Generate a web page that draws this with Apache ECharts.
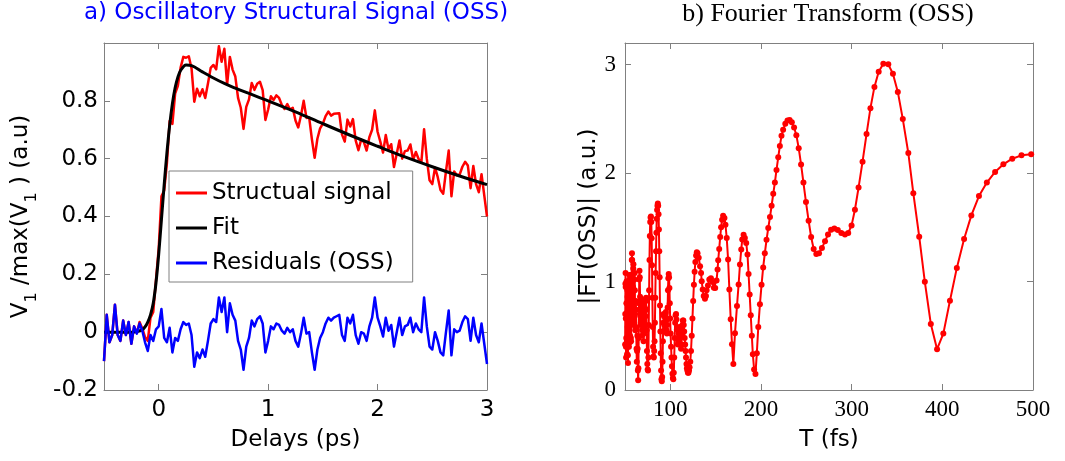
<!DOCTYPE html>
<html>
<head>
<meta charset="utf-8">
<title>OSS</title>
<script src="https://cdn.jsdelivr.net/npm/echarts@6/dist/echarts.min.js"></script>
<style>
html, body { margin: 0; padding: 0; background: #fff; }
#charts { width: 1065px; height: 461px; }
</style>
</head>
<body>
<div id="charts"></div>
<script>
// a) delays (ps), structural signal and residuals
var delays = [
    -0.5, -0.475, -0.45, -0.425, -0.4, -0.375, -0.35, -0.325, -0.3, -0.275,
    -0.25, -0.225, -0.2, -0.175, -0.15, -0.125, -0.1, -0.075, -0.05, -0.025,
    0, 0.025, 0.05, 0.075, 0.1, 0.125, 0.15, 0.175, 0.2, 0.225,
    0.25, 0.275, 0.3, 0.325, 0.35, 0.375, 0.4, 0.425, 0.45, 0.475,
    0.5, 0.525, 0.55, 0.575, 0.6, 0.625, 0.65, 0.675, 0.7, 0.725,
    0.75, 0.775, 0.8, 0.825, 0.85, 0.875, 0.9, 0.925, 0.95, 0.975,
    1, 1.025, 1.05, 1.075, 1.1, 1.125, 1.15, 1.175, 1.2, 1.225,
    1.25, 1.275, 1.3, 1.325, 1.35, 1.375, 1.4, 1.425, 1.45, 1.475,
    1.5, 1.525, 1.55, 1.575, 1.6, 1.625, 1.65, 1.675, 1.7, 1.725,
    1.75, 1.775, 1.8, 1.825, 1.85, 1.875, 1.9, 1.925, 1.95, 1.975,
    2, 2.025, 2.05, 2.075, 2.1, 2.125, 2.15, 2.175, 2.2, 2.225,
    2.25, 2.275, 2.3, 2.325, 2.35, 2.375, 2.4, 2.425, 2.45, 2.475,
    2.5, 2.525, 2.55, 2.575, 2.6, 2.625, 2.65, 2.675, 2.7, 2.725,
    2.75, 2.775, 2.8, 2.825, 2.85, 2.875, 2.9, 2.925, 2.95, 2.975,
    3
];
var signal = [
    -0.10, 0.06, -0.035, -0.01, 0.095, -0.01, -0.03, 0.04, -0.01, 0.035,
    -0.04, 0.02, -0.003, 0.035, 0.013, -0.017, -0.03, 0.05, 0.07, 0.18,
    0.29, 0.47, 0.49, 0.585, 0.73, 0.72, 0.825, 0.852, 0.915, 0.952,
    0.949, 0.954, 0.912, 0.797, 0.842, 0.816, 0.84, 0.81, 0.86, 0.914,
    0.924, 0.909, 0.989, 0.935, 0.98, 0.856, 0.952, 0.908, 0.884, 0.81,
    0.776, 0.703, 0.779, 0.805, 0.862, 0.838, 0.859, 0.866, 0.837, 0.734,
    0.77, 0.816, 0.803, 0.819, 0.81, 0.786, 0.772, 0.789, 0.77, 0.776,
    0.732, 0.708, 0.749, 0.8, 0.741, 0.742, 0.667, 0.603, 0.669, 0.705,
    0.721, 0.747, 0.763, 0.749, 0.755, 0.756, 0.757, 0.683, 0.659, 0.735,
    0.711, 0.737, 0.663, 0.629, 0.666, 0.657, 0.628, 0.674, 0.7, 0.767,
    0.693, 0.659, 0.621, 0.682, 0.633, 0.65, 0.571, 0.617, 0.663, 0.6,
    0.626, 0.628, 0.649, 0.596, 0.623, 0.599, 0.586, 0.702, 0.599, 0.525,
    0.512, 0.569, 0.536, 0.492, 0.479, 0.556, 0.628, 0.47, 0.556, 0.543,
    0.545, 0.572, 0.589, 0.576, 0.498, 0.575, 0.512, 0.484, 0.546, 0.473,
    0.40
];
var residuals = [
    -0.10, 0.06, -0.035, -0.01, 0.095, -0.01, -0.03, 0.04, -0.01, 0.035,
    -0.04, 0.02, -0.005, 0.03, 0.005, -0.035, -0.065, -0.01, -0.03, 0.01,
    0.02, 0.08, -0.02, -0.035, 0.015, -0.07, -0.02, -0.03, 0.01, 0.035,
    0.025, 0.03, -0.01, -0.12, -0.07, -0.09, -0.06, -0.085, -0.03, 0.03,
    0.045, 0.035, 0.12, 0.07, 0.12, 0.0, 0.1, 0.06, 0.04, -0.03,
    -0.06, -0.13, -0.05, -0.02, 0.04, 0.02, 0.045, 0.055, 0.03, -0.07,
    -0.03, 0.02, 0.01, 0.03, 0.025, 0.005, -0.005, 0.015, 0.0, 0.01,
    -0.03, -0.05, -0.005, 0.05, -0.005, 0.0, -0.07, -0.13, -0.06, -0.02,
    0.0, 0.03, 0.05, 0.04, 0.05, 0.055, 0.06, -0.01, -0.03, 0.05,
    0.03, 0.06, -0.01, -0.04, 0.0, -0.005, -0.03, 0.02, 0.05, 0.12,
    0.05, 0.02, -0.015, 0.05, 0.005, 0.025, -0.05, 0.0, 0.05, -0.01,
    0.02, 0.025, 0.05, 0.0, 0.03, 0.01, 0.0, 0.12, 0.02, -0.05,
    -0.06, 0.0, -0.03, -0.07, -0.08, 0.0, 0.075, -0.08, 0.01, 0.0,
    0.005, 0.035, 0.055, 0.045, -0.03, 0.05, -0.01, -0.035, 0.03, -0.04,
    -0.11
];
// fit curve, read at a few points, drawn smooth
var fitDelays = [-0.5, -0.25, -0.2, -0.15, -0.125, -0.1, -0.075, -0.05, -0.025, 0,
    0.025, 0.05, 0.075, 0.1, 0.125, 0.15, 0.175, 0.2, 0.25, 0.3,
    0.4, 0.5, 0.6, 0.7, 0.8, 1.0, 1.25, 1.5, 1.75, 2.0,
    2.25, 2.5, 2.75, 3.0];
var fitValues = [0, 0, 0.002, 0.008, 0.018, 0.035, 0.06, 0.1, 0.17, 0.27,
    0.39, 0.51, 0.62, 0.715, 0.79, 0.845, 0.882, 0.905, 0.924, 0.922,
    0.9, 0.879, 0.86, 0.844, 0.829, 0.8, 0.762, 0.721, 0.681, 0.643,
    0.606, 0.572, 0.54, 0.51];

// b) period T (fs) and |FT(OSS)|
var periods = [
    50.15, 50.3, 50.45, 50.6, 50.75, 50.9, 51.05, 51.2, 51.35, 51.5,
    51.65, 51.8, 51.95, 52.1, 52.25, 52.4, 52.55, 52.7, 52.85, 53.0,
    53.15, 53.3, 53.45, 53.6, 53.75, 53.9, 54.05, 54.2, 54.35, 54.5,
    54.65, 54.8, 54.95, 55.1, 55.25, 55.4, 55.55, 55.7, 55.85, 56.0,
    56.15, 56.3, 56.5, 56.7, 56.9, 57.1, 57.3, 57.5, 57.7, 57.9,
    58.1, 58.3, 58.5, 58.7, 58.9, 59.1, 59.3, 59.5, 59.7, 59.9,
    60.1, 60.3, 60.5, 60.7, 60.9, 61.1, 61.3, 61.5, 61.7, 61.9,
    62.1, 62.4, 62.7, 63.0, 63.3, 63.6, 63.9, 64.2, 64.5, 64.8,
    65.1, 65.4, 65.7, 66.0, 66.3, 66.6, 66.9, 67.2, 67.5, 67.8,
    68.1, 68.4, 68.7, 69.0, 69.3, 69.6, 69.9, 70.2, 70.5, 70.8,
    71.1, 71.4, 71.7, 72.0, 72.3, 72.6, 72.9, 73.2, 73.5, 73.8,
    74.2, 74.6, 75.0, 75.4, 75.8, 76.2, 76.6, 77.0, 77.4, 77.8,
    78.2, 78.6, 79.0, 79.4, 79.8, 80.2, 80.6, 81.0, 81.4, 81.8,
    82.2, 82.6, 83.0, 83.4, 83.8, 84.2, 84.6, 85.0, 85.4, 85.8,
    86.2, 86.6, 87.0, 87.4, 87.8, 88.2, 88.6, 89.0, 89.4, 89.8,
    90.2, 90.6, 91.0, 91.4, 91.8, 92.2, 92.6, 93.0, 93.4, 93.8,
    94.2, 94.6, 95.0, 95.4, 95.8, 96.2, 96.6, 97.0, 97.4, 97.8,
    98.2, 98.6, 99.0, 99.4, 99.8, 100.3, 100.8, 101.3, 101.8, 102.3,
    102.8, 103.3, 103.8, 104.3, 104.8, 105.3, 105.8, 106.3, 106.8, 107.3,
    107.8, 108.3, 108.8, 109.3, 109.8, 110.3, 110.8, 111.3, 111.8, 112.3,
    112.8, 113.3, 113.8, 114.3, 114.8, 115.3, 115.8, 116.3, 116.8, 117.3,
    117.8, 118.3, 118.8, 119.4, 120.0, 120.6, 121.2, 122.0, 122.8, 123.6,
    124.4, 125.2, 126.0, 126.8, 127.6, 128.4, 129.2, 130.0, 131.3,
    132.8, 133.9, 134.6, 135.7, 136.8, 138.2, 139.3, 140.0, 141.5, 143.0,
    144.8, 146.6, 148.0, 149.5, 151.0, 152.1, 152.8, 153.9, 155.0, 156.0,
    157.1, 158.2, 159.7, 160.8, 162.2, 163.7, 165.1, 166.6, 168.0, 169.5,
    171.3, 173.5, 175.3, 176.8, 178.2, 179.3, 180.8, 182.2, 183.7, 185.1,
    186.3, 187.5, 188.7, 189.9, 191.0, 192.4, 193.9, 195.4, 197.0, 198.8,
    200.6, 202.4, 204.2, 206.1, 208.0, 209.9, 211.7, 213.5, 215.3, 217.1,
    219.0, 220.8, 222.6, 224.4, 226.8, 229.2, 231.6, 234.0, 236.5, 239.0,
    241.6, 244.2, 246.8, 249.6, 252.5, 255.3, 258.1, 261.0, 264.0, 267.2,
    270.6, 273.9, 277.3, 280.9, 284.7, 288.6, 292.6, 296.2, 299.9, 303.6,
    307.6, 312.0, 316.4, 320.7, 325.1, 329.8, 334.9, 340.4, 345.5, 350.9,
    356.4, 362.5, 368.0, 374.5, 380.7, 387.3, 394.2, 401.1, 408.4, 416.0,
    424.0, 432.0, 440.4, 449.1, 458.2, 467.3, 477.1, 487.3, 498.0
];
var ftAmp = [
    0.42, 0.70, 0.98, 1.08, 0.95, 0.66, 0.40, 0.30, 0.48, 0.80,
    1.00, 0.95, 0.70, 0.45, 0.33, 0.45, 0.72, 0.92, 0.86, 0.58,
    0.32, 0.25, 0.40, 0.68, 0.90, 0.94, 0.76, 0.52, 0.40, 0.52,
    0.80, 1.02, 1.06, 0.88, 0.60, 0.44, 0.50, 0.75, 0.98, 1.06,
    0.95, 0.70, 0.48, 0.45, 0.62, 0.85, 1.06, 1.20, 1.26, 1.20,
    1.00, 0.75, 0.62, 0.72, 0.95, 1.12, 1.16, 1.02, 0.78, 0.60,
    0.62, 0.82, 1.02, 1.08, 0.92, 0.70, 0.55, 0.58, 0.74, 0.82,
    0.74, 0.56, 0.38, 0.26, 0.36, 0.50, 0.38, 0.18, 0.09, 0.20,
    0.48, 0.80, 1.02, 1.10, 1.04, 0.86, 0.68, 0.60, 0.72, 0.84,
    0.78, 0.62, 0.50, 0.55, 0.72, 0.82, 0.74, 0.56, 0.45, 0.52,
    0.70, 0.82, 0.76, 0.60, 0.55, 0.68, 0.82, 0.85, 0.74, 0.55,
    0.36, 0.24, 0.19, 0.18, 0.30, 0.60, 0.92, 1.20, 1.42, 1.55,
    1.59, 1.60, 1.55, 1.40, 1.15, 0.85, 0.58, 0.40, 0.31, 0.30,
    0.36, 0.45, 0.62, 0.85, 1.08, 1.28, 1.45, 1.58, 1.66, 1.70,
    1.72, 1.70, 1.62, 1.48, 1.28, 1.04, 0.78, 0.54, 0.34, 0.18,
    0.10, 0.08, 0.12, 0.26, 0.45, 0.62, 0.70, 0.68, 0.60, 0.55,
    0.60, 0.70, 0.72, 0.64, 0.55, 0.52, 0.60, 0.76, 0.92, 1.03,
    1.07, 1.04, 0.94, 0.80, 0.66, 0.52, 0.40, 0.30, 0.22, 0.15,
    0.11, 0.10, 0.16, 0.30, 0.48, 0.62, 0.69, 0.70, 0.65, 0.56,
    0.47, 0.42, 0.44, 0.52, 0.58, 0.57, 0.50, 0.42, 0.38, 0.42,
    0.52, 0.60, 0.64, 0.64, 0.60, 0.54, 0.48, 0.42, 0.36, 0.30,
    0.24, 0.20, 0.18, 0.16, 0.16, 0.18, 0.21, 0.26, 0.36, 0.50,
    0.66, 0.82, 0.97, 1.09, 1.18, 1.24, 1.27, 1.26, 1.22,
    1.142, 1.08, 1.004, 0.927, 0.866, 0.842, 0.866, 0.921, 0.964, 1.019,
    1.031, 0.995, 0.943, 0.94, 1.01, 1.111, 1.197, 1.301, 1.411, 1.5,
    1.57, 1.607, 1.586, 1.524, 1.402, 1.203, 0.927, 0.652, 0.422, 0.239,
    0.523, 0.774, 0.973, 1.157, 1.295, 1.387, 1.432, 1.402, 1.356, 1.249,
    1.07, 0.88, 0.69, 0.50, 0.33, 0.19, 0.147, 0.34, 0.58, 0.79,
    0.97, 1.13, 1.26, 1.385, 1.494, 1.595, 1.699, 1.809, 1.913, 2.029,
    2.146, 2.25, 2.344, 2.40, 2.455, 2.485, 2.49, 2.47, 2.42, 2.35,
    2.23, 2.08, 1.913, 1.733, 1.561, 1.411, 1.301, 1.255, 1.261, 1.31,
    1.371, 1.435, 1.478, 1.49, 1.475, 1.448, 1.435, 1.448, 1.518, 1.662,
    1.867, 2.106, 2.36, 2.599, 2.795, 2.935, 3.009, 3.003, 2.917, 2.749,
    2.498, 2.185, 1.815, 1.414, 0.998, 0.609, 0.376, 0.52, 0.823, 1.126,
    1.393, 1.61, 1.788, 1.913, 2.011, 2.081, 2.133, 2.164, 2.175
];

// tick positions
var delayTicks = [0, 1, 2, 3];
var signalTicks = [-0.2, 0, 0.2, 0.4, 0.6, 0.8];
var periodTicks = [100, 200, 300, 400, 500];
var ftTicks = [0, 1, 2, 3];

var SANS = 'DejaVu Sans';
var SERIF = 'Liberation Serif';
var BOX = '#808080';

var chart;

init();

function init() {
    chart = echarts.init(document.getElementById('charts'), null, {renderer: 'canvas', width: 1065, height: 461});
    chart.setOption(buildOption());
}

function pairs(xs, ys) {
    var out = [];
    for (var i = 0; i < xs.length; i++) {
        out.push([xs[i], ys[i]]);
    }
    return out;
}

/*
 * one side of the matlab style box: ticks inside, labels only on bottom/left
 */
function boxAxis(grid, position, min, max, ticks, labelFont, labelMargin) {
    var axis = {
        gridIndex: grid,
        type: 'value',
        position: position,
        min: min,
        max: max,
        splitLine: {show: false},
        axisLine: {onZero: false, lineStyle: {color: BOX, width: 1}},
        axisTick: {inside: true, length: 6, customValues: ticks, lineStyle: {color: BOX}},
        axisLabel: {show: false}
    };
    if (labelFont) {
        axis.axisLabel = {
            show: true,
            customValues: ticks,
            margin: labelMargin,
            fontFamily: labelFont,
            fontSize: 23,
            color: '#000'
        };
    }
    return axis;
}

function buildOption() {
    var xDelay = boxAxis(0, 'bottom', -0.5, 3, delayTicks, SANS, 9);
    xDelay.name = 'Delays (ps)';
    xDelay.nameLocation = 'middle';
    xDelay.nameGap = 39;
    xDelay.nameTextStyle = {fontFamily: SANS, fontSize: 23, color: '#000'};

    var ySignal = boxAxis(0, 'left', -0.2, 1.0, signalTicks, SANS, 6);
    ySignal.name = '{a|V}{s|1}{a| /max(V}{s|1}{a| ) (a.u)}';
    ySignal.nameLocation = 'middle';
    ySignal.nameGap = 64;
    ySignal.nameTextStyle = {
        fontFamily: SANS, fontSize: 23, color: '#000',
        rich: {
            a: {fontFamily: SANS, fontSize: 23, color: '#000', lineHeight: 38, verticalAlign: 'middle'},
            s: {fontFamily: SANS, fontSize: 16, color: '#000', lineHeight: 16, verticalAlign: 'bottom'}
        }
    };

    var xPeriod = boxAxis(1, 'bottom', 50, 500, periodTicks, SERIF, 8);
    xPeriod.name = 'T (fs)';
    xPeriod.nameLocation = 'middle';
    xPeriod.nameGap = 39;
    xPeriod.nameTextStyle = {fontFamily: SANS, fontSize: 23, color: '#000'};

    var yFt = boxAxis(1, 'left', 0, 3.2, ftTicks, SERIF, 9);
    yFt.name = '|FT(OSS)| (a.u.)';
    yFt.nameLocation = 'middle';
    yFt.nameGap = 24;
    yFt.nameTextStyle = {fontFamily: SANS, fontSize: 23, color: '#000'};

    return {
        animation: false,
        backgroundColor: '#fff',
        title: [
            {
                text: 'a) Oscillatory Structural Signal (OSS)',
                left: 296, top: 2, textAlign: 'center', padding: 0,
                textStyle: {fontFamily: SANS, fontSize: 23, fontWeight: 'normal', color: '#0000ff'}
            },
            {
                text: 'b) Fourier Transform (OSS)',
                left: 828, top: 1, textAlign: 'center', padding: 0,
                textStyle: {fontFamily: SERIF, fontSize: 26, fontWeight: 'normal', color: '#000'}
            }
        ],
        legend: {
            data: ['Structual signal', 'Fit', 'Residuals (OSS)'],
            orient: 'vertical',
            left: 169,
            top: 171,
            icon: 'rect',
            itemWidth: 31,
            itemHeight: 3,
            itemGap: 9,
            padding: [9, 19, 6, 7],
            borderColor: BOX,
            borderWidth: 1,
            borderRadius: 0,
            backgroundColor: '#fff',
            selectedMode: false,
            textStyle: {fontFamily: SANS, fontSize: 23, color: '#000', lineHeight: 26}
        },
        grid: [
            {left: 104, top: 43, width: 383, height: 347},
            {left: 625, top: 43, width: 408, height: 347}
        ],
        xAxis: [
            xDelay,
            boxAxis(0, 'top', -0.5, 3, delayTicks),
            xPeriod,
            boxAxis(1, 'top', 50, 500, periodTicks)
        ],
        yAxis: [
            ySignal,
            boxAxis(0, 'right', -0.2, 1.0, signalTicks),
            yFt,
            boxAxis(1, 'right', 0, 3.2, ftTicks)
        ],
        series: [
            {
                name: 'Structual signal', type: 'line', xAxisIndex: 0, yAxisIndex: 0,
                data: pairs(delays, signal), symbol: 'none',
                itemStyle: {color: '#ff0000'},
                lineStyle: {color: '#ff0000', width: 2.5, join: 'round'}
            },
            {
                name: 'Fit', type: 'line', xAxisIndex: 0, yAxisIndex: 0,
                data: pairs(fitDelays, fitValues), symbol: 'none', smooth: 0.35,
                itemStyle: {color: '#000'},
                lineStyle: {color: '#000', width: 3, join: 'round'}
            },
            {
                name: 'Residuals (OSS)', type: 'line', xAxisIndex: 0, yAxisIndex: 0,
                data: pairs(delays, residuals), symbol: 'none',
                itemStyle: {color: '#0000ff'},
                lineStyle: {color: '#0000ff', width: 2.5, join: 'round'}
            },
            {
                name: 'FT', type: 'line', xAxisIndex: 2, yAxisIndex: 2,
                data: pairs(periods, ftAmp), symbol: 'circle', symbolSize: 6,
                itemStyle: {color: '#ff0000'},
                lineStyle: {color: '#ff0000', width: 2, join: 'round'}
            }
        ]
    };
}
</script>
</body>
</html>
